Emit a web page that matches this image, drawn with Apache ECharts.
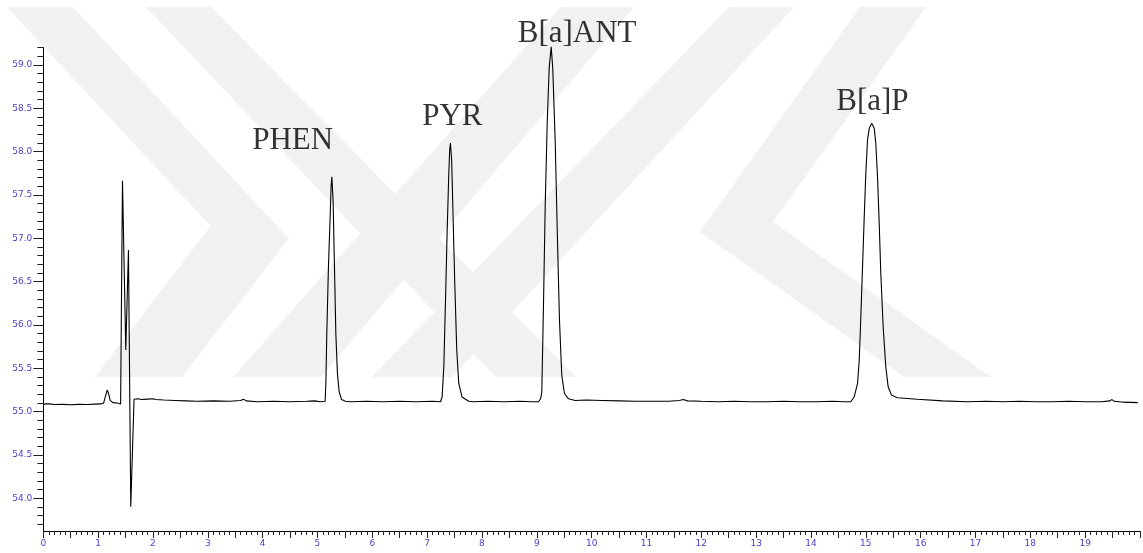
<!DOCTYPE html>
<html>
<head>
<meta charset="utf-8">
<script src="https://cdn.jsdelivr.net/npm/echarts@6/dist/echarts.min.js"></script>
<style>
html,body{margin:0;padding:0;background:#fff;}
#chart{width:1143px;height:553px;}
</style>
</head>
<body>
<div id="chart"></div>
<script>
// ---- data (time in min, signal) ----
var earlyRegion = [
  [0.00,55.085],[0.05,55.09],[0.08,55.10],[0.11,55.09],[0.20,55.083],[0.35,55.085],[0.50,55.08],
  [0.65,55.085],[0.80,55.083],[0.95,55.088],[1.05,55.09],[1.10,55.10],[1.13,55.17],[1.165,55.25],
  [1.19,55.21],[1.22,55.13],[1.27,55.105],[1.35,55.10],[1.41,55.09],[1.425,55.077],[1.444,57.664],
  [1.504,55.712],[1.553,56.865],[1.595,53.904],[1.655,55.143],[1.72,55.15],[1.80,55.14],[1.90,55.145],
  [2.00,55.15],[2.05,55.14],[2.20,55.135],[2.40,55.13],[2.60,55.125],[2.80,55.12],[3.10,55.125],
  [3.40,55.12],[3.60,55.13],[3.65,55.145],[3.70,55.125],[3.90,55.115],[4.20,55.12],[4.50,55.115],
  [4.80,55.12],[4.95,55.125],[5.05,55.115]
];
var phenPeak = [
  [5.14,55.12],[5.153,55.33],[5.17,55.90],[5.20,56.67],[5.231,57.25],[5.249,57.60],[5.262,57.71],
  [5.272,57.69],[5.285,57.44],[5.31,56.67],[5.335,55.90],[5.364,55.44],[5.395,55.23],[5.44,55.14],
  [5.51,55.12]
];
var midRegion1 = [
  [5.60,55.115],[5.90,55.12],[6.20,55.115],[6.50,55.12],[6.80,55.115],[7.10,55.12],[7.244,55.115]
];
var pyrPeak = [
  [7.273,55.17],[7.304,55.52],[7.335,56.29],[7.364,57.06],[7.393,57.71],[7.411,58.02],[7.425,58.10],
  [7.447,57.90],[7.473,57.25],[7.504,56.48],[7.54,55.71],[7.576,55.33],[7.636,55.17],[7.758,55.12]
];
var midRegion2 = [
  [7.85,55.115],[8.10,55.12],[8.40,55.115],[8.70,55.12],[8.90,55.115],[9.03,55.115]
];
var baantPeak = [
  [9.07,55.15],[9.091,55.227],[9.122,56.246],[9.153,57.377],[9.189,58.32],[9.225,58.96],[9.262,59.21],
  [9.291,58.96],[9.335,58.13],[9.376,57.00],[9.413,56.06],[9.455,55.42],[9.504,55.21],[9.576,55.15],
  [9.70,55.13]
];
var midRegion3 = [
  [9.90,55.135],[10.20,55.13],[10.50,55.125],[10.80,55.12],[11.10,55.12],[11.40,55.12],[11.60,55.13],
  [11.67,55.14],[11.75,55.125],[12.00,55.12],[12.30,55.115],[12.60,55.12],[12.90,55.115],[13.20,55.115],
  [13.50,55.12],[13.80,55.115],[14.10,55.115],[14.40,55.12],[14.60,55.115],[14.727,55.115]
];
var bapPeak = [
  [14.789,55.173],[14.849,55.328],[14.88,55.596],[14.909,56.096],[14.94,56.672],[14.971,57.249],
  [15.00,57.75],[15.031,58.134],[15.062,58.269],[15.109,58.326],[15.153,58.269],[15.182,58.096],
  [15.213,57.71],[15.244,57.173],[15.273,56.596],[15.316,55.98],[15.364,55.519],[15.407,55.288],
  [15.467,55.193],[15.576,55.161],[15.94,55.143]
];
var lateRegion = [
  [16.40,55.125],[16.85,55.115],[17.20,55.12],[17.50,55.115],[17.80,55.12],[18.10,55.115],[18.40,55.115],
  [18.70,55.12],[19.00,55.115],[19.30,55.115],[19.45,55.125],[19.49,55.14],[19.53,55.12],[19.70,55.11],
  [19.96,55.105]
];
// peak annotations
var peakNames = ['PHEN','PYR','B[a]ANT','B[a]P'];
var peakLabelTime = [4.547, 7.46, 9.735, 15.12];
var peakLabelSignal = [58.13, 58.40, 59.36, 58.57];
// axis ranges
var xRange = [0, 20];
var yRange = [53.624, 59.2];
var yMinorRange = [53.7, 59.2];
var yMajorRange = [54.0, 59.0];

var trace = [].concat(earlyRegion, phenPeak, midRegion1, pyrPeak, midRegion2, baantPeak, midRegion3, bapPeak, lateRegion);
var labelData = peakNames.map(function(n, i){ return {name: n, value: [peakLabelTime[i], peakLabelSignal[i]]}; });

// ---- layout ----
var L = 43.3, T = 47.6, B = 22;
var plotH = 553 - B - T;
var pxPerUnit = plotH / (yRange[1] - yRange[0]);
var labelColor = '#4a3fc8';
var labelFont = {color: labelColor, fontSize: 9, fontFamily: 'DejaVu Sans'};

var chart = echarts.init(document.getElementById('chart'), null, {renderer: 'canvas'});

var wmFill = '#f1f1f1';
function poly(pts){ return {type:'polygon', z:-10, silent:true, shape:{points:pts}, style:{fill:wmFill}}; }

var option = {
  animation: false,
  backgroundColor: '#fff',
  graphic: [
    poly([[7,7],[73,7],[288.7,238.4],[182,377],[95,377],[210.7,226]]),
    poly([[146,7],[211,7],[576,377],[496,377]]),
    poly([[561,7],[634,7],[321,377],[233,377]]),
    poly([[729,7],[794,7],[452,377],[372,377]]),
    poly([[860,7],[926,7],[773,222],[991,377],[904,377],[700,232]])
  ],
  grid: [
    {left: L, right: 0, top: T, bottom: B},
    {left: L, right: 0, top: T, height: (yMinorRange[1]-yMinorRange[0]) * pxPerUnit},
    {left: L, right: 0, top: T + (yRange[1]-yMajorRange[1]) * pxPerUnit, height: (yMajorRange[1]-yMajorRange[0]) * pxPerUnit}
  ],
  xAxis: [
    {type:'value', gridIndex:0, min:xRange[0], max:xRange[1], interval:0.1, position:'bottom',
     axisLine:{show:true, onZero:false, lineStyle:{color:'#000', width:1}},
     axisTick:{show:true, length:4, lineStyle:{color:'#222'}},
     axisLabel:{show:false}, splitLine:{show:false}},
    {type:'value', gridIndex:0, min:xRange[0], max:xRange[1], interval:0.5, position:'bottom', offset:0,
     axisLine:{show:false, onZero:false}, axisTick:{show:true, length:7, lineStyle:{color:'#222'}},
     axisLabel:{show:false}, splitLine:{show:false}},
    {type:'value', gridIndex:0, min:xRange[0], max:xRange[1], interval:1, position:'bottom', offset:0,
     axisLine:{show:false, onZero:false}, axisTick:{show:true, length:7, lineStyle:{color:'#222'}},
     axisLabel:Object.assign({show:true, margin:8, formatter:function(v){ return v >= 20 ? '' : String(v); }}, labelFont),
     splitLine:{show:false}},
    {type:'value', gridIndex:1, show:false, min:xRange[0], max:xRange[1]},
    {type:'value', gridIndex:2, show:false, min:xRange[0], max:xRange[1]}
  ],
  yAxis: [
    {type:'value', gridIndex:0, min:yRange[0], max:yRange[1], position:'left',
     axisLine:{show:true, onZero:false, lineStyle:{color:'#000', width:1}},
     axisTick:{show:false}, axisLabel:{show:false}, splitLine:{show:false}},
    {type:'value', gridIndex:1, min:yMinorRange[0], max:yMinorRange[1], interval:0.1, position:'left',
     axisLine:{show:false}, axisTick:{show:true, length:6, lineStyle:{color:'#222'}},
     axisLabel:{show:false}, splitLine:{show:false}},
    {type:'value', gridIndex:2, min:yMajorRange[0], max:yMajorRange[1], interval:0.5, position:'left',
     axisLine:{show:false}, axisTick:{show:true, length:10, lineStyle:{color:'#222'}},
     axisLabel:Object.assign({show:true, margin:11, formatter:function(v){ return v.toFixed(1); }}, labelFont),
     splitLine:{show:false}}
  ],
  series: [
    {type:'line', xAxisIndex:0, yAxisIndex:0, data: trace, showSymbol:false, symbol:'none', clip:false,
     lineStyle:{color:'#000', width:1.1}, z:5},
    {type:'scatter', xAxisIndex:0, yAxisIndex:0, data: labelData, symbolSize:0, clip:false, z:6,
     label:{show:true, position:'inside', formatter:'{b}', color:'#000', fontSize:31,
            fontFamily:'Liberation Serif', align:'center', verticalAlign:'middle'}}
  ]
};
chart.setOption(option);
</script>
</body>
</html>
